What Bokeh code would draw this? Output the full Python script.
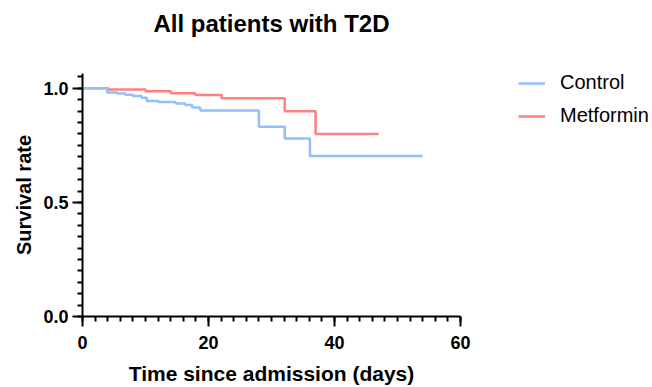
from bokeh.plotting import figure
from bokeh.models import Range1d, FixedTicker, NumeralTickFormatter, Legend, LegendItem, Title
from bokeh.embed import file_html
from bokeh.resources import INLINE

# Kaplan-Meier step data
control_days = [0, 3.9, 5.5, 6.8, 8.0, 9.4, 10.2, 12.1, 14.8, 16.3, 17.4, 18.7, 28.0, 32.1, 36.1, 54]
control_surv = [1.0, 0.982, 0.977, 0.972, 0.966, 0.959, 0.944, 0.940, 0.934, 0.927, 0.916, 0.903, 0.832, 0.780, 0.703, 0.703]
metformin_days = [0, 4.1, 10.0, 14.0, 17.9, 22.1, 32.1, 37.0, 47]
metformin_surv = [1.0, 0.995, 0.987, 0.978, 0.971, 0.956, 0.900, 0.800, 0.800]

x_major = [0, 20, 40, 60]
x_minor = [i * 2 for i in range(31)]
y_major = [0.0, 0.5, 1.0]
y_minor = [i * 0.05 for i in range(22)]

BLUE = "#91BFFF"
RED = "#FF8080"
FONT = "Liberation Sans"

p = figure(frame_width=378, frame_height=243, output_backend="svg", toolbar_location=None,
           x_range=Range1d(0, 60), y_range=Range1d(0, 1.065),
           min_border_left=82, min_border_right=192, min_border_top=73, min_border_bottom=71)
p.outline_line_color = None
p.xgrid.grid_line_color = None
p.ygrid.grid_line_color = None
p.background_fill_color = "white"

r_met = p.step(metformin_days, metformin_surv, mode="after", line_width=2.5, line_color=RED)
r_con = p.step(control_days, control_surv, mode="after", line_width=2.5, line_color=BLUE)

# spacer between the title and the plot frame (sits nearest the frame)
p.add_layout(Title(text=" ", text_font_size="1px", standoff=24), "above")

p.title.text = "All patients with T2D"
p.title.align = "center"
p.title.vertical_align = "top"
p.title.text_font = FONT
p.title.text_font_size = "24px"
p.title.text_font_style = "bold"
p.title.text_color = "black"
p.title.standoff = 16

for ax in (p.xaxis[0], p.yaxis[0]):
    ax.axis_line_width = 2
    ax.axis_line_color = "black"
    ax.major_tick_line_width = 2
    ax.minor_tick_line_width = 2
    ax.major_tick_out = 10
    ax.major_tick_in = 0
    ax.minor_tick_out = 5
    ax.minor_tick_in = 0
    ax.major_label_text_font = FONT
    ax.major_label_text_font_size = "18px"
    ax.major_label_text_font_style = "bold"
    ax.major_label_text_color = "black"
    ax.axis_label_text_font = FONT
    ax.axis_label_text_font_style = "bold"
    ax.axis_label_text_color = "black"

p.xaxis[0].axis_label_text_font_size = "21px"
p.yaxis[0].axis_label_text_font_size = "20px"
p.xaxis[0].ticker = FixedTicker(ticks=x_major, minor_ticks=x_minor)
p.yaxis[0].ticker = FixedTicker(ticks=y_major, minor_ticks=y_minor)
p.yaxis[0].formatter = NumeralTickFormatter(format="0.0")
p.xaxis[0].axis_label = "Time since admission (days)"
p.yaxis[0].axis_label = "Survival rate"
p.xaxis[0].major_label_standoff = 9
p.yaxis[0].major_label_standoff = 4
p.xaxis[0].axis_label_standoff = 10
p.yaxis[0].axis_label_standoff = 5

legend = Legend(items=[LegendItem(label="Control", renderers=[r_con]),
                       LegendItem(label="Metformin", renderers=[r_met])],
                location=(58, 189))
legend.border_line_color = None
legend.background_fill_alpha = 0
legend.padding = 0
legend.margin = 0
legend.spacing = 10
legend.glyph_width = 27
legend.glyph_height = 20
legend.label_height = 20
legend.label_standoff = 15
legend.label_text_font = FONT
legend.label_text_font_size = "20px"
legend.label_text_color = "black"
p.add_layout(legend, "right")

open("out.html", "w").write(file_html(p, INLINE))
